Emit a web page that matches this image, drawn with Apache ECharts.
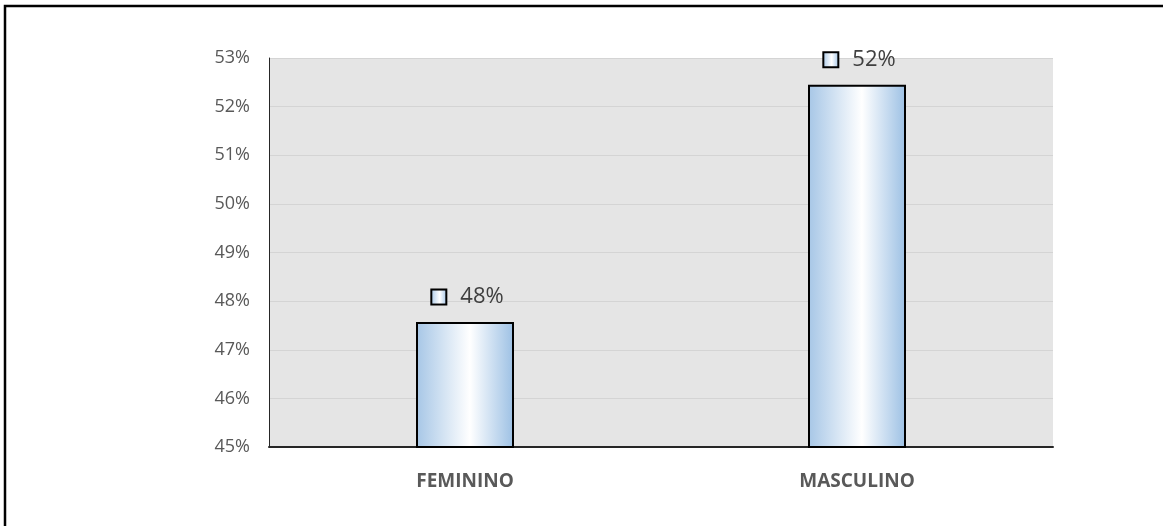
<!DOCTYPE html>
<html>
<head>
<meta charset="utf-8">
<script src="https://cdn.jsdelivr.net/npm/echarts@6/dist/echarts.min.js"></script>
<style>
  html, body { margin: 0; padding: 0; background: #fff; }
  #chart { width: 1163px; height: 526px; }
</style>
</head>
<body>
<div id="chart"></div>
<script>
var categories = ['FEMININO', 'MASCULINO'];
var values = [47.57, 52.45];
var labels = ['48%', '52%'];
var yTicks = [45, 46, 47, 48, 49, 50, 51, 52, 53];

var myChart = echarts.init(document.getElementById('chart'));

// degradado horizontal de las barras
function barGrad() {
    return new echarts.graphic.LinearGradient(0, 0, 1, 0, [
        { offset: 0, color: '#a6c6e6' },
        { offset: 0.55, color: '#ffffff' },
        { offset: 1, color: '#9cc0e4' }
    ]);
}

var option = {
    animation: false,
    graphic: [{
        type: 'rect',
        shape: { x: 5, y: 6, width: 1200, height: 600 },
        style: { fill: 'none', stroke: '#000', lineWidth: 2.5 }
    }],
    grid: {
        left: 269,
        right: 110,
        top: 58,
        bottom: 79,
        show: true,
        backgroundColor: '#e5e5e5',
        borderWidth: 0
    },
    xAxis: {
        type: 'category',
        data: categories,
        axisLine: { lineStyle: { color: '#262626', width: 2 } },
        axisTick: { show: false },
        axisLabel: {
            color: '#595959',
            fontFamily: 'Open Sans',
            fontWeight: 'bold',
            fontSize: 19,
            margin: 25
        }
    },
    yAxis: {
        type: 'value',
        min: yTicks[0],
        max: yTicks[yTicks.length - 1],
        interval: 1,
        axisLine: { show: true, lineStyle: { color: '#262626', width: 1 } },
        axisTick: { show: false },
        splitLine: { lineStyle: { color: '#d4d4d4', width: 1 } },
        axisLabel: {
            color: '#595959',
            fontFamily: 'Open Sans',
            fontSize: 18,
            margin: 19,
            formatter: function (v) { return v + '%'; }
        }
    },
    series: [{
        type: 'bar',
        data: values,
        barWidth: '25%',
        itemStyle: {
            color: barGrad(),
            borderColor: '#000',
            borderWidth: 2
        },
        label: {
            show: true,
            position: 'top',
            distance: 14,
            offset: [3, 0],
            formatter: function (p) { return '{box|}{t|' + labels[p.dataIndex] + '}'; },
            rich: {
                box: {
                    width: 13,
                    height: 13,
                    backgroundColor: barGrad(),
                    borderColor: '#000',
                    borderWidth: 2
                },
                t: {
                    color: '#404040',
                    fontFamily: 'Open Sans',
                    fontSize: 22,
                    padding: [0, 0, 0, 15]
                }
            }
        }
    }]
};

myChart.setOption(option);
</script>
</body>
</html>
